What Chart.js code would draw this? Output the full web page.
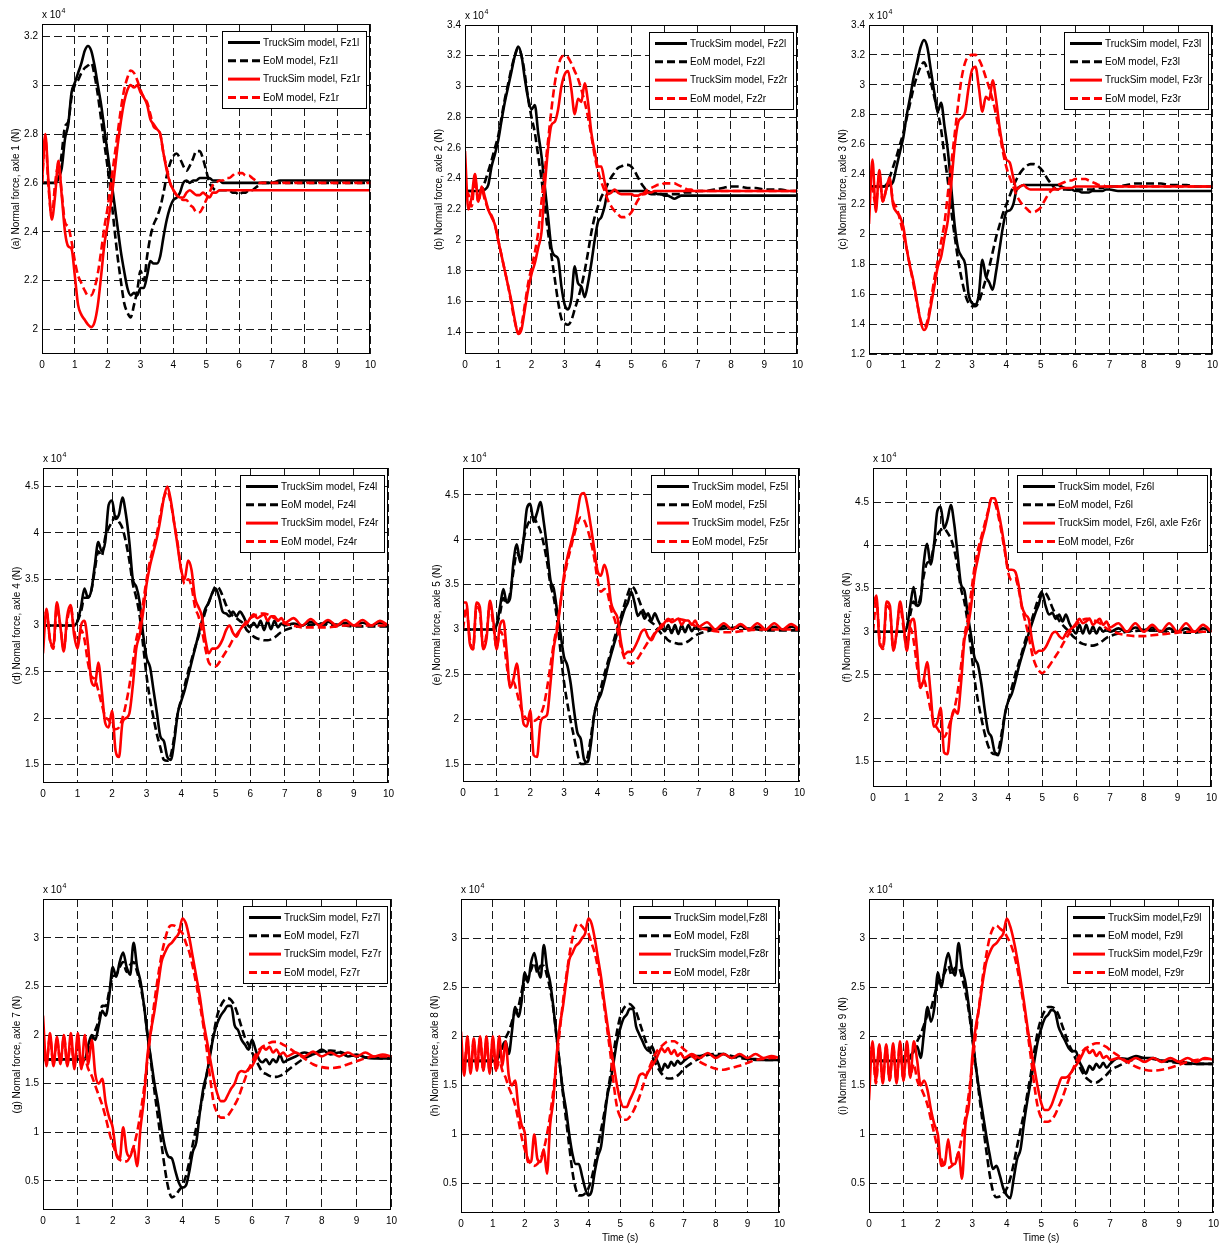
<!DOCTYPE html>
<html>
<head>
<meta charset="utf-8">
<title>Normal force per axle, TruckSim vs EoM</title>
<script src="https://cdn.jsdelivr.net/npm/chart.js@4.4.1/dist/chart.umd.min.js"></script>
<style>
  html, body { margin: 0; padding: 0; background: #fff; }
  #page { position: relative; width: 1224px; height: 1247px; overflow: hidden; }
  #page canvas { position: absolute; }
</style>
</head>
<body>
<div id="page"></div>
<script>
// time (s), shared by every panel
const T = [0,0.1,0.2,0.3,0.4,0.5,0.6,0.7,0.8,0.9,
  1,1.1,1.2,1.3,1.4,1.5,1.6,1.7,1.8,1.9,
  2,2.1,2.2,2.3,2.4,2.5,2.6,2.7,2.8,2.9,
  3,3.1,3.2,3.3,3.4,3.5,3.6,3.7,3.8,3.9,
  4,4.1,4.2,4.3,4.4,4.5,4.6,4.7,4.8,4.9,
  5,5.1,5.2,5.3,5.4,5.5,5.6,5.7,5.8,5.9,
  6,6.1,6.2,6.3,6.4,6.5,6.6,6.7,6.8,6.9,
  7,7.25,7.5,7.75,8,8.25,8.5,8.75,9,9.25,9.5,9.75,10];
const xTicks = [0,1,2,3,4,5,6,7,8,9,10];

// y tick labels (x 10^4 N)
const ticksA = [2,2.2,2.4,2.6,2.8,3,3.2];
const ticksB = [1.4,1.6,1.8,2,2.2,2.4,2.6,2.8,3,3.2,3.4];
const ticksC = [1.2,1.4,1.6,1.8,2,2.2,2.4,2.6,2.8,3,3.2,3.4];
const ticksDEF = [1.5,2,2.5,3,3.5,4,4.5];
const ticksGHI = [0.5,1,1.5,2,2.5,3];

// ---- axle 1 ----
const aTsL = [2.6,2.6,2.6,2.6,2.6,2.62,2.66,2.78,2.84,2.97,
  3.01,3.05,3.09,3.14,3.16,3.14,3.08,3.0,2.92,2.82,
  2.72,2.62,2.52,2.42,2.32,2.24,2.17,2.14,2.15,2.14,
  2.17,2.17,2.22,2.28,2.27,2.27,2.3,2.38,2.45,2.5,
  2.53,2.54,2.56,2.6,2.61,2.6,2.61,2.61,2.62,2.62,
  2.62,2.62,2.61,2.61,2.61,2.6,2.6,2.6,2.6,2.6,
  2.6,2.6,2.6,2.6,2.6,2.6,2.6,2.6,2.6,2.6,
  2.6,2.61,2.61,2.61,2.61,2.61,2.61,2.61,2.61,2.61,2.61,2.61,2.61];
const aEomL = [2.6,2.6,2.6,2.6,2.6,2.62,2.72,2.83,2.85,2.95,
  3.0,3.02,3.05,3.07,3.08,3.09,3.04,2.96,2.86,2.76,
  2.66,2.55,2.42,2.3,2.2,2.11,2.07,2.05,2.1,2.16,
  2.24,2.2,2.3,2.38,2.43,2.46,2.5,2.56,2.63,2.68,
  2.71,2.72,2.7,2.67,2.65,2.67,2.7,2.73,2.73,2.7,
  2.65,2.6,2.58,2.57,2.57,2.57,2.57,2.57,2.56,2.56,
  2.55,2.56,2.56,2.57,2.57,2.58,2.59,2.6,2.6,2.6,
  2.6,2.6,2.6,2.6,2.6,2.6,2.6,2.6,2.6,2.6,2.6,2.6,2.6];
const aTsR = [2.6,2.8,2.6,2.45,2.55,2.69,2.55,2.4,2.34,2.33,
  2.22,2.1,2.06,2.04,2.02,2.01,2.03,2.1,2.22,2.35,
  2.43,2.52,2.63,2.75,2.85,2.93,2.98,3.0,2.99,3.0,
  2.97,2.95,2.92,2.86,2.84,2.82,2.8,2.72,2.65,2.6,
  2.57,2.55,2.54,2.54,2.56,2.57,2.56,2.55,2.55,2.56,
  2.55,2.54,2.56,2.56,2.57,2.57,2.57,2.57,2.57,2.57,
  2.57,2.57,2.57,2.57,2.57,2.57,2.57,2.57,2.57,2.57,
  2.57,2.57,2.57,2.57,2.57,2.57,2.57,2.57,2.57,2.57,2.57,2.57,2.57];
const aEomR = [2.6,2.78,2.58,2.46,2.6,2.67,2.56,2.44,2.42,2.36,
  2.28,2.22,2.19,2.16,2.14,2.14,2.17,2.23,2.32,2.42,
  2.5,2.6,2.7,2.8,2.9,2.98,3.03,3.06,3.05,3.02,
  2.98,2.95,2.93,2.88,2.83,2.82,2.8,2.72,2.66,2.6,
  2.57,2.55,2.54,2.53,2.53,2.51,2.5,2.48,2.48,2.5,
  2.53,2.56,2.59,2.6,2.61,2.61,2.62,2.62,2.63,2.64,
  2.64,2.64,2.63,2.63,2.62,2.61,2.6,2.6,2.6,2.6,
  2.6,2.6,2.6,2.6,2.6,2.6,2.6,2.6,2.6,2.6,2.6,2.6,2.6];

// ---- axle 2 ----
const bTsL = [2.32,2.32,2.32,2.32,2.32,2.32,2.33,2.36,2.48,2.56,
  2.65,2.78,2.9,3.0,3.1,3.2,3.26,3.2,3.05,2.92,
  2.85,2.88,2.7,2.55,2.35,2.15,1.95,1.9,1.88,1.7,
  1.58,1.55,1.62,1.83,1.72,1.7,1.63,1.72,1.85,2.0,
  2.12,2.15,2.22,2.32,2.32,2.32,2.32,2.32,2.32,2.32,
  2.32,2.32,2.32,2.32,2.32,2.32,2.31,2.31,2.3,2.3,
  2.29,2.29,2.28,2.27,2.28,2.29,2.29,2.29,2.29,2.29,
  2.29,2.29,2.29,2.29,2.29,2.29,2.29,2.29,2.29,2.29,2.29,2.29,2.29];
const bEomL = [2.32,2.32,2.32,2.32,2.32,2.33,2.38,2.45,2.52,2.6,
  2.68,2.8,2.92,3.02,3.12,3.2,3.25,3.2,3.08,2.92,
  2.8,2.7,2.55,2.4,2.22,2.05,1.9,1.75,1.6,1.49,
  1.46,1.45,1.48,1.55,1.62,1.7,1.8,1.92,2.05,2.15,
  2.22,2.28,2.32,2.37,2.41,2.44,2.47,2.48,2.49,2.49,
  2.48,2.45,2.41,2.37,2.34,2.31,2.3,2.3,2.3,2.3,
  2.3,2.3,2.3,2.3,2.3,2.3,2.31,2.31,2.31,2.31,
  2.32,2.32,2.33,2.34,2.35,2.35,2.34,2.34,2.33,2.33,2.33,2.32,2.32];
const bTsR = [2.58,2.2,2.28,2.43,2.25,2.35,2.28,2.2,2.15,2.1,
  2.0,1.9,1.8,1.7,1.6,1.48,1.39,1.42,1.55,1.68,
  1.78,1.85,1.95,2.05,2.35,2.6,2.75,2.77,2.85,3.0,
  3.08,3.1,2.98,2.82,2.92,2.9,3.02,2.9,2.7,2.58,
  2.48,2.48,2.38,2.3,2.31,2.33,2.31,2.3,2.3,2.3,
  2.3,2.29,2.29,2.3,2.3,2.31,2.31,2.32,2.32,2.32,
  2.32,2.32,2.32,2.32,2.32,2.32,2.32,2.32,2.32,2.32,
  2.32,2.32,2.32,2.32,2.32,2.32,2.32,2.32,2.32,2.32,2.32,2.32,2.32];
const bEomR = [2.32,2.3,2.22,2.4,2.25,2.33,2.26,2.2,2.16,2.1,
  2.0,1.9,1.8,1.7,1.58,1.47,1.4,1.45,1.58,1.72,
  1.82,1.92,2.05,2.25,2.45,2.65,2.85,3.02,3.13,3.19,
  3.2,3.19,3.15,3.1,3.05,2.98,2.9,2.8,2.68,2.55,
  2.45,2.38,2.32,2.26,2.22,2.19,2.17,2.15,2.15,2.16,
  2.18,2.22,2.26,2.29,2.31,2.33,2.34,2.35,2.36,2.36,
  2.37,2.37,2.37,2.37,2.36,2.35,2.34,2.33,2.33,2.32,
  2.32,2.32,2.32,2.32,2.32,2.32,2.32,2.32,2.32,2.32,2.32,2.32,2.32];

// ---- axle 3 ----
const cTsL = [2.32,2.32,2.32,2.32,2.32,2.32,2.33,2.35,2.45,2.55,
  2.65,2.8,2.92,3.05,3.15,3.25,3.3,3.25,3.1,2.95,
  2.82,2.88,2.72,2.55,2.3,2.05,1.9,1.85,1.8,1.6,
  1.54,1.53,1.6,1.83,1.72,1.68,1.63,1.75,1.9,2.05,
  2.15,2.16,2.2,2.3,2.32,2.33,2.33,2.33,2.33,2.33,
  2.33,2.33,2.33,2.33,2.33,2.33,2.32,2.31,2.3,2.3,
  2.29,2.29,2.28,2.28,2.28,2.29,2.29,2.29,2.29,2.3,
  2.3,2.29,2.29,2.29,2.29,2.29,2.29,2.29,2.29,2.29,2.29,2.29,2.29];
const cEomL = [2.32,2.32,2.32,2.32,2.32,2.33,2.38,2.45,2.52,2.6,
  2.68,2.78,2.88,2.98,3.06,3.12,3.15,3.1,3.02,2.92,
  2.82,2.7,2.52,2.35,2.15,1.98,1.82,1.7,1.6,1.54,
  1.52,1.52,1.55,1.62,1.7,1.78,1.88,1.98,2.06,2.14,
  2.2,2.26,2.32,2.37,2.41,2.44,2.46,2.47,2.47,2.46,
  2.44,2.41,2.37,2.34,2.31,2.3,2.3,2.3,2.3,2.3,
  2.3,2.3,2.3,2.3,2.3,2.3,2.31,2.31,2.31,2.32,
  2.32,2.32,2.33,2.34,2.34,2.34,2.34,2.33,2.33,2.33,2.32,2.32,2.32];
const cTsR = [2.07,2.5,2.15,2.43,2.22,2.3,2.38,2.2,2.15,2.12,
  2.05,1.9,1.78,1.68,1.55,1.42,1.36,1.4,1.52,1.65,
  1.78,1.85,1.98,2.1,2.35,2.6,2.75,2.78,2.82,2.98,
  3.1,3.12,2.98,2.82,2.92,2.9,3.03,2.9,2.72,2.58,
  2.5,2.48,2.38,2.3,2.32,2.33,2.31,2.3,2.3,2.3,
  2.3,2.3,2.3,2.3,2.3,2.3,2.31,2.31,2.31,2.31,
  2.32,2.32,2.32,2.32,2.32,2.32,2.32,2.32,2.32,2.32,
  2.32,2.32,2.32,2.32,2.32,2.32,2.32,2.32,2.32,2.32,2.32,2.32,2.32];
const cEomR = [2.32,2.3,2.2,2.4,2.22,2.3,2.36,2.22,2.18,2.1,
  2.0,1.9,1.78,1.66,1.54,1.43,1.38,1.42,1.55,1.7,
  1.82,1.95,2.08,2.28,2.48,2.68,2.88,3.05,3.15,3.19,
  3.2,3.2,3.17,3.12,3.05,2.98,2.9,2.8,2.68,2.55,
  2.45,2.38,2.32,2.26,2.22,2.19,2.17,2.15,2.15,2.16,
  2.18,2.22,2.26,2.29,2.31,2.33,2.34,2.35,2.36,2.36,
  2.37,2.37,2.37,2.37,2.36,2.35,2.34,2.33,2.33,2.32,
  2.32,2.32,2.32,2.32,2.32,2.32,2.32,2.32,2.32,2.32,2.32,2.32,2.32];

// ---- axle 4 ----
const dTsL = [3,3,3,3,3,3,3,3,3,3,
  3.05,3.2,3.4,3.3,3.38,3.65,3.9,3.8,3.9,4.3,
  4.35,4.15,4.2,4.38,4.2,3.9,3.5,3.42,3.25,2.9,
  2.65,2.55,2.3,2.05,1.8,1.75,1.58,1.55,1.75,2.05,
  2.18,2.3,2.45,2.6,2.75,2.9,3.05,3.18,3.25,3.35,
  3.4,3.3,3.15,3.13,3.1,3.15,3.1,3.15,3.1,3.02,
  2.98,3.03,2.98,3.05,2.95,3.05,2.96,3.05,2.98,3.02,
  3.0,3.02,3.0,3.04,3.01,3.04,3.0,3.03,3.0,3.03,3.0,3.03,3.0];
const dEomL = [3,3,3,3,3,3,3,3,3,3,
  3.05,3.15,3.3,3.3,3.38,3.6,3.8,3.75,3.95,4.05,
  4.12,4.18,4.12,4.05,3.9,3.7,3.45,3.3,3.1,2.78,
  2.45,2.2,2.0,1.82,1.68,1.55,1.54,1.6,1.8,2.05,
  2.2,2.35,2.5,2.63,2.76,2.88,3.02,3.15,3.25,3.35,
  3.42,3.4,3.32,3.22,3.15,3.1,3.08,3.05,3.02,2.95,
  2.92,2.88,2.86,2.85,2.84,2.84,2.85,2.87,2.9,2.93,
  2.95,2.98,3.0,3.01,3.02,3.02,3.01,3.0,2.99,2.99,2.99,2.99,2.99];
const dTsR = [2.7,3.18,2.85,2.78,3.25,3.0,2.72,3.1,3.22,2.9,
  2.75,3.0,3.05,2.8,2.4,2.35,2.6,2.3,1.95,1.9,
  2.08,1.65,1.58,1.95,2.0,2.05,2.35,2.75,2.9,3.15,
  3.45,3.65,3.8,3.95,4.15,4.38,4.5,4.35,4.1,3.85,
  3.6,3.5,3.7,3.6,3.3,3.2,3.1,2.85,2.7,2.75,
  2.75,2.78,2.85,2.95,3.0,2.92,2.88,2.95,3.0,3.02,
  3.08,3.12,3.08,3.1,3.12,3.05,3.1,3.1,3.05,3.08,
  3.03,3.08,3.0,3.07,3.0,3.06,3.0,3.06,3.0,3.06,3.0,3.05,3.0];
const dEomR = [3.0,3.15,2.85,2.75,3.2,3.0,2.75,3.05,3.2,2.95,
  2.8,2.95,2.85,2.6,2.45,2.42,2.3,2.15,2.02,1.98,
  1.92,1.88,1.9,2.0,2.15,2.35,2.6,2.85,3.0,3.25,
  3.5,3.7,3.85,4.0,4.2,4.38,4.45,4.32,4.1,3.88,
  3.6,3.45,3.5,3.42,3.2,3.1,2.95,2.75,2.6,2.57,
  2.56,2.6,2.66,2.72,2.78,2.85,2.9,2.95,3.0,3.05,
  3.08,3.1,3.12,3.13,3.13,3.12,3.1,3.08,3.06,3.04,
  3.02,3.0,2.98,2.98,2.98,2.98,2.99,3.0,3.0,3.0,3.0,3.0,3.0];

// ---- axle 5 ----
const eTsL = [3,3,3,3,3,3,3,3,3,3,
  3.05,3.25,3.45,3.3,3.35,3.75,3.95,3.75,4.0,4.35,
  4.4,4.2,4.3,4.42,4.2,3.9,3.55,3.45,3.2,2.95,
  2.7,2.6,2.4,2.1,1.85,1.78,1.55,1.52,1.72,2.05,
  2.2,2.28,2.42,2.58,2.72,2.85,2.98,3.1,3.22,3.3,
  3.42,3.3,3.15,3.2,3.12,3.18,3.1,3.18,3.1,3.03,
  2.98,3.05,2.96,3.05,2.95,3.05,2.97,3.05,2.98,3.03,
  3.0,3.02,3.0,3.04,3.01,3.04,3.0,3.03,3.0,3.03,3.0,3.03,3.0];
const eEomL = [3,3,3,3,3,3,3,3,3,3,
  3.05,3.18,3.35,3.3,3.4,3.65,3.85,3.8,4.0,4.15,
  4.22,4.25,4.18,4.1,3.95,3.75,3.5,3.35,3.1,2.75,
  2.42,2.18,1.98,1.8,1.62,1.5,1.5,1.58,1.8,2.05,
  2.2,2.35,2.5,2.63,2.76,2.9,3.03,3.15,3.28,3.4,
  3.48,3.45,3.36,3.26,3.18,3.12,3.08,3.05,3.0,2.95,
  2.92,2.88,2.86,2.85,2.84,2.84,2.85,2.87,2.9,2.93,
  2.95,2.98,3.0,3.01,3.02,3.02,3.01,3.0,2.99,2.99,2.99,2.99,2.99];
const eTsR = [3.3,3.3,2.85,2.78,3.3,3.25,2.78,2.9,3.32,3.1,
  2.78,3.05,3.1,2.75,2.35,2.45,2.62,2.3,1.95,1.92,
  2.1,1.6,1.58,1.95,2.02,2.05,2.4,2.8,3.0,3.3,
  3.6,3.8,3.95,4.1,4.3,4.5,4.52,4.38,4.15,3.9,
  3.65,3.6,3.72,3.6,3.3,3.2,3.12,2.85,2.72,2.75,
  2.75,2.8,2.88,2.97,3.0,2.92,2.88,2.95,3.0,3.02,
  3.08,3.12,3.08,3.1,3.12,3.05,3.1,3.1,3.05,3.1,
  3.03,3.08,3.0,3.07,3.0,3.06,3.0,3.07,3.0,3.07,3.0,3.06,3.0];
const eEomR = [3.0,3.25,2.9,2.78,3.25,3.2,2.8,2.95,3.28,3.05,
  2.8,2.98,2.9,2.6,2.4,2.42,2.3,2.15,2.05,2.0,
  1.98,1.98,2.0,2.05,2.15,2.35,2.6,2.85,3.05,3.3,
  3.55,3.75,3.9,4.05,4.18,4.25,4.22,4.12,3.98,3.8,
  3.55,3.42,3.45,3.4,3.22,3.12,2.98,2.8,2.68,2.63,
  2.62,2.64,2.68,2.74,2.8,2.86,2.9,2.96,3.0,3.05,
  3.08,3.1,3.11,3.12,3.12,3.11,3.1,3.08,3.06,3.04,
  3.02,3.0,2.98,2.97,2.97,2.98,2.99,3.0,3.0,3.0,3.0,3.0,3.0];

// ---- axle 6 ----
const fTsL = [3,3,3,3,3,3,3,3,3,3,
  3.05,3.3,3.52,3.3,3.35,3.8,4.02,3.78,4.0,4.4,
  4.45,4.2,4.3,4.47,4.25,3.9,3.55,3.48,3.2,2.95,
  2.7,2.62,2.4,2.1,1.85,1.78,1.6,1.57,1.75,2.05,
  2.2,2.28,2.42,2.58,2.72,2.85,2.98,3.1,3.22,3.32,
  3.45,3.3,3.2,3.22,3.15,3.2,3.12,3.2,3.1,3.03,
  2.98,3.08,2.98,3.08,2.98,3.06,2.98,3.05,3.0,3.03,
  3.0,3.04,3.0,3.05,3.02,3.05,3.0,3.04,3.0,3.04,3.0,3.04,3.0];
const fEomL = [3,3,3,3,3,3,3,3,3,3,
  3.05,3.2,3.35,3.3,3.4,3.65,3.8,3.82,4.0,4.12,
  4.18,4.2,4.15,4.08,3.95,3.75,3.5,3.35,3.1,2.78,
  2.45,2.2,2.0,1.82,1.68,1.6,1.58,1.62,1.82,2.05,
  2.2,2.35,2.5,2.63,2.76,2.9,3.02,3.15,3.28,3.4,
  3.47,3.45,3.38,3.28,3.2,3.13,3.08,3.04,3.0,2.95,
  2.92,2.88,2.86,2.85,2.84,2.84,2.85,2.87,2.9,2.93,
  2.95,2.98,3.0,3.01,3.02,3.02,3.01,3.0,3.0,2.99,2.99,3.0,3.0];
const fTsR = [3.3,3.42,2.85,2.82,3.35,3.3,2.78,3.0,3.35,3.1,
  2.78,3.1,3.15,2.8,2.35,2.45,2.65,2.3,1.9,1.95,
  2.12,1.6,1.58,1.95,2.1,2.05,2.4,2.9,3.05,3.3,
  3.65,3.85,4.05,4.2,4.38,4.55,4.55,4.4,4.2,3.95,
  3.72,3.72,3.7,3.55,3.3,3.2,3.15,2.9,2.75,2.78,
  2.78,2.82,2.9,2.98,3.0,2.95,2.92,2.98,3.02,3.05,
  3.1,3.15,3.1,3.12,3.15,3.08,3.12,3.15,3.08,3.12,
  3.05,3.1,3.0,3.1,3.0,3.08,3.0,3.1,3.0,3.1,3.0,3.08,3.0];
const fEomR = [3.0,3.35,2.9,2.8,3.3,3.25,2.8,3.0,3.3,3.05,
  2.8,3.05,2.9,2.6,2.35,2.45,2.3,2.1,1.95,1.88,
  1.82,1.78,1.85,1.98,2.1,2.3,2.6,2.95,3.15,3.45,
  3.75,3.95,4.1,4.25,4.4,4.55,4.5,4.35,4.15,3.92,
  3.68,3.6,3.62,3.5,3.28,3.12,2.95,2.75,2.62,2.55,
  2.52,2.55,2.6,2.66,2.72,2.78,2.85,2.92,2.98,3.04,
  3.08,3.12,3.14,3.15,3.15,3.14,3.12,3.1,3.07,3.04,
  3.02,2.98,2.96,2.95,2.95,2.96,2.97,2.98,2.99,3.0,3.0,3.0,3.0];

// ---- axle 7 ----
const gTsL = [1.75,1.75,1.75,1.75,1.75,1.75,1.75,1.75,1.75,1.75,
  1.75,1.75,1.75,1.9,2.0,1.95,2.1,2.25,2.2,2.4,
  2.7,2.6,2.75,2.85,2.7,2.62,2.95,2.7,2.55,2.3,
  2.0,1.75,1.5,1.3,1.05,0.85,0.75,0.73,0.6,0.48,
  0.43,0.45,0.6,0.8,0.9,1.2,1.45,1.6,1.8,2.0,
  2.12,2.2,2.25,2.3,2.3,2.1,2.05,1.95,1.9,1.85,
  1.95,1.85,1.75,1.72,1.75,1.7,1.75,1.72,1.8,1.72,
  1.74,1.78,1.82,1.8,1.85,1.8,1.82,1.78,1.8,1.77,1.76,1.76,1.76];
const gEomL = [1.75,1.75,1.75,1.75,1.75,1.75,1.75,1.75,1.75,1.75,
  1.75,1.75,1.75,1.85,1.95,2.05,2.15,2.3,2.3,2.45,
  2.6,2.62,2.7,2.75,2.65,2.72,2.75,2.65,2.5,2.3,
  2.0,1.72,1.42,1.15,0.88,0.62,0.42,0.33,0.35,0.4,
  0.45,0.55,0.7,0.88,1.05,1.22,1.4,1.6,1.82,2.02,
  2.2,2.3,2.36,2.38,2.36,2.3,2.2,2.08,1.97,1.9,
  1.82,1.75,1.68,1.62,1.6,1.58,1.57,1.57,1.58,1.6,
  1.63,1.7,1.76,1.8,1.83,1.84,1.83,1.8,1.78,1.77,1.77,1.76,1.76];
const gTsR = [2.2,1.68,2.02,1.68,1.98,1.7,2.0,1.68,2.02,1.65,
  2.02,1.65,2.0,1.7,1.95,1.6,1.5,1.55,1.3,1.15,
  1.05,0.78,0.72,1.05,0.8,0.75,0.85,0.65,1.05,1.35,
  1.8,2.05,2.25,2.5,2.75,2.85,2.92,2.95,3.0,3.05,
  3.2,3.15,3.0,2.8,2.6,2.4,2.15,1.95,1.75,1.55,
  1.4,1.32,1.32,1.38,1.45,1.5,1.6,1.63,1.62,1.65,
  1.68,1.75,1.82,1.88,1.85,1.88,1.82,1.85,1.8,1.82,
  1.78,1.82,1.78,1.83,1.78,1.82,1.78,1.82,1.78,1.82,1.78,1.8,1.78];
const gEomR = [1.9,1.72,1.98,1.7,1.95,1.72,1.98,1.7,1.95,1.68,
  1.95,1.68,1.75,1.65,1.58,1.48,1.38,1.28,1.15,1.0,
  0.88,0.78,0.72,0.7,0.7,0.75,0.85,1.0,1.2,1.45,
  1.75,2.05,2.35,2.6,2.82,2.98,3.1,3.13,3.12,3.08,
  3.05,2.95,2.85,2.7,2.52,2.32,2.1,1.85,1.55,1.3,
  1.2,1.15,1.15,1.17,1.22,1.28,1.35,1.45,1.55,1.65,
  1.72,1.8,1.85,1.88,1.9,1.92,1.93,1.93,1.92,1.9,
  1.88,1.82,1.76,1.7,1.67,1.66,1.67,1.7,1.73,1.76,1.78,1.78,1.78];

// ---- axle 8 ----
const hTsL = [1.75,1.75,1.75,1.75,1.75,1.75,1.75,1.75,1.75,1.75,
  1.75,1.75,1.85,1.9,1.95,1.82,2.05,2.3,2.2,2.35,
  2.65,2.55,2.75,2.85,2.7,2.6,2.93,2.7,2.55,2.3,
  2.0,1.72,1.45,1.25,1.0,0.8,0.7,0.7,0.58,0.45,
  0.38,0.42,0.62,0.78,0.88,1.15,1.4,1.55,1.75,1.95,
  2.08,2.18,2.22,2.28,2.28,2.1,2.02,1.95,1.88,1.85,
  1.9,1.8,1.72,1.65,1.72,1.68,1.74,1.7,1.75,1.72,
  1.75,1.8,1.8,1.82,1.8,1.82,1.78,1.8,1.77,1.77,1.76,1.76,1.76];
const hEomL = [1.75,1.75,1.75,1.75,1.75,1.75,1.75,1.75,1.75,1.75,
  1.75,1.75,1.8,1.88,1.98,2.05,2.15,2.25,2.3,2.45,
  2.58,2.6,2.68,2.75,2.65,2.72,2.72,2.62,2.48,2.28,
  2.0,1.72,1.42,1.15,0.88,0.62,0.45,0.38,0.38,0.4,
  0.45,0.55,0.7,0.88,1.05,1.22,1.42,1.62,1.85,2.05,
  2.2,2.28,2.32,2.33,2.3,2.25,2.15,2.05,1.95,1.88,
  1.8,1.73,1.67,1.62,1.59,1.57,1.57,1.58,1.6,1.63,
  1.67,1.73,1.78,1.81,1.82,1.82,1.8,1.78,1.77,1.76,1.76,1.76,1.76];
const hTsR = [2.05,1.6,2.0,1.62,1.98,1.65,2.0,1.65,2.0,1.62,
  2.0,1.65,2.0,1.7,1.95,1.6,1.5,1.55,1.28,1.1,
  1.02,0.72,0.72,1.0,0.75,0.72,0.85,0.6,1.1,1.35,
  1.8,2.1,2.3,2.55,2.78,2.85,2.92,2.95,3.0,3.05,
  3.2,3.15,3.0,2.8,2.6,2.35,2.12,1.9,1.7,1.5,
  1.35,1.28,1.28,1.35,1.42,1.5,1.6,1.62,1.6,1.65,
  1.7,1.75,1.82,1.88,1.84,1.88,1.82,1.86,1.8,1.83,
  1.78,1.82,1.78,1.83,1.78,1.82,1.78,1.82,1.78,1.82,1.78,1.8,1.78];
const hEomR = [1.75,1.7,1.95,1.65,1.95,1.68,1.98,1.65,1.95,1.65,
  1.95,1.65,1.75,1.65,1.58,1.48,1.4,1.3,1.15,0.98,
  0.85,0.75,0.7,0.68,0.7,0.75,0.85,1.0,1.2,1.45,
  1.75,2.05,2.35,2.6,2.82,3.0,3.12,3.15,3.12,3.08,
  3.05,2.95,2.85,2.7,2.52,2.3,2.05,1.8,1.5,1.28,
  1.18,1.15,1.15,1.18,1.23,1.3,1.38,1.48,1.58,1.67,
  1.75,1.82,1.87,1.9,1.93,1.95,1.95,1.95,1.93,1.9,
  1.87,1.8,1.74,1.7,1.67,1.66,1.68,1.7,1.73,1.76,1.77,1.78,1.78];

// ---- axle 9 ----
const iTsL = [1.75,1.75,1.75,1.75,1.75,1.75,1.75,1.75,1.75,1.75,
  1.75,1.75,1.8,1.85,1.9,1.78,2.05,2.3,2.15,2.3,
  2.65,2.5,2.7,2.85,2.7,2.62,2.95,2.7,2.55,2.3,
  2.0,1.7,1.45,1.22,1.0,0.8,0.65,0.68,0.58,0.45,
  0.38,0.35,0.55,0.75,0.85,1.12,1.35,1.55,1.75,1.95,
  2.08,2.18,2.22,2.27,2.25,2.1,2.02,1.95,1.88,1.85,
  1.85,1.75,1.68,1.62,1.7,1.66,1.72,1.68,1.73,1.68,
  1.72,1.78,1.77,1.8,1.78,1.78,1.75,1.75,1.74,1.73,1.72,1.72,1.72];
const iEomL = [1.75,1.75,1.75,1.75,1.75,1.75,1.75,1.75,1.75,1.75,
  1.75,1.75,1.78,1.85,1.95,2.02,2.12,2.22,2.28,2.42,
  2.55,2.58,2.65,2.72,2.62,2.7,2.7,2.6,2.45,2.25,
  1.98,1.7,1.4,1.12,0.85,0.6,0.42,0.36,0.37,0.4,
  0.45,0.55,0.7,0.88,1.05,1.22,1.42,1.62,1.85,2.05,
  2.18,2.26,2.3,2.3,2.28,2.22,2.12,2.02,1.92,1.85,
  1.77,1.7,1.63,1.58,1.55,1.53,1.53,1.55,1.58,1.61,
  1.65,1.7,1.74,1.77,1.78,1.77,1.75,1.74,1.73,1.72,1.72,1.72,1.72];
const iTsR = [1.35,1.95,1.55,1.92,1.52,1.92,1.55,1.93,1.52,1.95,
  1.55,1.95,1.58,1.95,1.75,1.5,1.55,1.45,1.25,1.1,
  1.0,0.68,0.7,0.95,0.7,0.7,0.82,0.55,1.1,1.3,
  1.8,2.1,2.3,2.55,2.75,2.85,2.92,2.95,3.0,3.05,
  3.2,3.12,2.98,2.8,2.58,2.35,2.1,1.88,1.68,1.48,
  1.32,1.25,1.25,1.3,1.4,1.5,1.58,1.58,1.6,1.65,
  1.7,1.75,1.82,1.88,1.83,1.86,1.8,1.84,1.78,1.8,
  1.76,1.78,1.74,1.78,1.74,1.78,1.74,1.78,1.74,1.78,1.74,1.78,1.76];
const iEomR = [1.75,1.9,1.52,1.9,1.55,1.9,1.55,1.9,1.55,1.92,
  1.55,1.92,1.6,1.72,1.55,1.48,1.4,1.3,1.15,1.0,
  0.85,0.75,0.68,0.66,0.68,0.72,0.82,0.98,1.18,1.42,
  1.72,2.02,2.32,2.6,2.82,3.0,3.1,3.13,3.1,3.07,
  3.02,2.95,2.85,2.7,2.52,2.3,2.05,1.78,1.5,1.28,
  1.17,1.13,1.13,1.15,1.2,1.28,1.36,1.46,1.56,1.65,
  1.73,1.8,1.85,1.88,1.9,1.92,1.93,1.93,1.91,1.89,
  1.86,1.8,1.74,1.69,1.66,1.65,1.66,1.68,1.71,1.74,1.76,1.77,1.77];

// legend texts and axis titles
const legendA = ['TruckSim model, Fz1l', 'EoM model, Fz1l', 'TruckSim model, Fz1r', 'EoM model, Fz1r'];
const legendB = ['TruckSim model, Fz2l', 'EoM model, Fz2l', 'TruckSim model, Fz2r', 'EoM model, Fz2r'];
const legendC = ['TruckSim model, Fz3l', 'EoM model, Fz3l', 'TruckSim model, Fz3r', 'EoM model, Fz3r'];
const legendD = ['TruckSim model, Fz4l', 'EoM model, Fz4l', 'TruckSim model, Fz4r', 'EoM model, Fz4r'];
const legendE = ['TruckSim model, Fz5l', 'EoM model, Fz5l', 'TruckSim model, Fz5r', 'EoM model, Fz5r'];
const legendF = ['TruckSim model, Fz6l', 'EoM model, Fz6l', 'TruckSim model, Fz6l, axle Fz6r', 'EoM model, Fz6r'];
const legendG = ['TruckSim model, Fz7l', 'EoM model, Fz7l', 'TruckSim model, Fz7r', 'EoM model, Fz7r'];
const legendH = ['TruckSim model,Fz8l', 'EoM model, Fz8l', 'TruckSim model,Fz8r', 'EoM model, Fz8r'];
const legendI = ['TruckSim model,Fz9l', 'EoM model, Fz9l', 'TruckSim model,Fz9r', 'EoM model, Fz9r'];

const panels = [
  { series: [aTsL, aEomL, aTsR, aEomR], legend: legendA, yTitle: '(a) Normal force, axle 1 (N)', yMin: 1.9, yMax: 3.25, yTicks: ticksA },
  { series: [bTsL, bEomL, bTsR, bEomR], legend: legendB, yTitle: '(b) Normal force, axle 2 (N)', yMin: 1.26, yMax: 3.4, yTicks: ticksB },
  { series: [cTsL, cEomL, cTsR, cEomR], legend: legendC, yTitle: '(c) Normal force, axle 3 (N)', yMin: 1.2, yMax: 3.4, yTicks: ticksC },
  { series: [dTsL, dEomL, dTsR, dEomR], legend: legendD, yTitle: '(d) Nomal force, axle 4 (N)', yMin: 1.3, yMax: 4.7, yTicks: ticksDEF },
  { series: [eTsL, eEomL, eTsR, eEomR], legend: legendE, yTitle: '(e) Normal force, axle 5 (N)', yMin: 1.3, yMax: 4.8, yTicks: ticksDEF },
  { series: [fTsL, fEomL, fTsR, fEomR], legend: legendF, yTitle: '(f) Normal force, axl6 (N)', yMin: 1.2, yMax: 4.9, yTicks: ticksDEF },
  { series: [gTsL, gEomL, gTsR, gEomR], legend: legendG, yTitle: '(g) Nomal force, axle 7 (N)', yMin: 0.2, yMax: 3.4, yTicks: ticksGHI },
  { series: [hTsL, hEomL, hTsR, hEomR], legend: legendH, yTitle: '(h) Normal force, axle 8 (N)', yMin: 0.2, yMax: 3.4, yTicks: ticksGHI, xTitle: 'Time (s)' },
  { series: [iTsL, iEomL, iTsR, iEomR], legend: legendI, yTitle: '(i) Normal force, axle 9 (N)', yMin: 0.2, yMax: 3.4, yTicks: ticksGHI, xTitle: 'Time (s)' }
];

// plot-area rectangles on the page: left, top, right, bottom
const plotBoxes = [
  [42, 24, 373, 354], [465, 25, 800, 354], [869, 25, 1215, 354],
  [43, 468, 391, 783], [463, 468, 802, 782], [873, 468, 1214, 787],
  [43, 899, 394, 1210], [461, 899, 782, 1213], [869, 899, 1216, 1213]
];

const FONT = '"Liberation Sans", Arial, Helvetica, sans-serif';
Chart.defaults.font.family = FONT;
Chart.defaults.font.size = 10;
Chart.defaults.color = '#000';

const lineColors = ['#000000', '#000000', '#ff0000', '#ff0000'];
const lineDash = [[], [8, 4], [], [8, 4]];
const Y_AXIS_W = 44, TOP_PAD = 24, RIGHT_PAD = 8;

// frame, "x 10^4" and boxed legend drawn over the plot
function decorPlugin(p) {
  return {
    id: 'decor',
    afterDatasetsDraw(chart) {
      const ctx = chart.ctx, a = chart.chartArea;
      ctx.save();
      ctx.setLineDash([]);
      ctx.strokeStyle = '#000';
      ctx.lineWidth = 1;
      ctx.strokeRect(Math.round(a.left) + 0.5, Math.round(a.top) + 0.5,
        Math.round(a.right - a.left) - 1, Math.round(a.bottom - a.top) - 1);

      // exponent label
      ctx.fillStyle = '#000';
      ctx.textBaseline = 'alphabetic';
      ctx.font = '10px ' + FONT;
      ctx.fillText('x 10', a.left, a.top - 6);
      const w = ctx.measureText('x 10').width;
      ctx.font = '7px ' + FONT;
      ctx.fillText('4', a.left + w + 0.5, a.top - 11);

      // legend
      ctx.font = '10px ' + FONT;
      const tw = Math.max(...p.legend.map(s => ctx.measureText(s).width));
      const bw = Math.round(6 + 32 + 3 + tw + 6), bh = 77;
      const bx = Math.round(a.right - 4 - bw), by = Math.round(a.top + 7);
      ctx.fillStyle = '#fff';
      ctx.fillRect(bx, by, bw, bh);
      ctx.strokeStyle = '#000';
      ctx.strokeRect(bx + 0.5, by + 0.5, bw, bh);
      p.legend.forEach((s, k) => {
        const y = by + 11.5 + k * 18.3;
        ctx.beginPath();
        ctx.setLineDash(lineDash[k]);
        ctx.strokeStyle = lineColors[k];
        ctx.lineWidth = 3;
        ctx.moveTo(bx + 6, y);
        ctx.lineTo(bx + 38, y);
        ctx.stroke();
        ctx.setLineDash([]);
        ctx.fillStyle = '#000';
        ctx.textBaseline = 'middle';
        ctx.fillText(s, bx + 41, y + 0.5);
      });
      ctx.restore();
    }
  };
}

const page = document.getElementById('page');

panels.forEach((p, n) => {
  const [L, Tp, R, B] = plotBoxes[n];
  const xh = p.xTitle ? 36 : 30;
  const cw = Y_AXIS_W + (R - L) + RIGHT_PAD;
  const chH = TOP_PAD + (B - Tp) + xh;
  const canvas = document.createElement('canvas');
  canvas.width = cw; canvas.height = chH;
  canvas.style.width = cw + 'px'; canvas.style.height = chH + 'px';
  canvas.style.left = (L - Y_AXIS_W) + 'px';
  canvas.style.top = (Tp - TOP_PAD) + 'px';
  page.appendChild(canvas);

  const datasets = p.series.map((vals, k) => ({
    label: p.legend[k],
    data: T.map((t, i) => ({ x: t, y: vals[i] })),
    borderColor: lineColors[k],
    borderDash: lineDash[k],
    borderWidth: 2.6,
    pointRadius: 0,
    cubicInterpolationMode: 'monotone',
    fill: false,
    order: 3 - k
  }));

  const gridOpts = { color: '#1a1a1a', lineWidth: 1, drawTicks: false };

  new Chart(canvas, {
    type: 'line',
    data: { datasets: datasets },
    options: {
      responsive: false,
      animation: false,
      events: [],
      layout: { padding: { left: 0, top: TOP_PAD, right: RIGHT_PAD, bottom: 0 } },
      plugins: { legend: { display: false }, tooltip: { enabled: false } },
      scales: {
        x: {
          type: 'linear', min: 0, max: 10,
          afterBuildTicks: s => { s.ticks = xTicks.map(v => ({ value: v })); },
          afterFit: s => { s.height = xh; },
          ticks: { padding: 5, maxRotation: 0, autoSkip: false, callback: v => String(v) },
          grid: gridOpts,
          border: { display: false, dash: [8, 4] },
          title: { display: !!p.xTitle, text: p.xTitle || '', font: { size: 10 }, padding: { top: 0, bottom: 5 } }
        },
        y: {
          type: 'linear', min: p.yMin, max: p.yMax,
          afterBuildTicks: s => { s.ticks = p.yTicks.map(v => ({ value: v })); },
          afterFit: s => { s.width = Y_AXIS_W; },
          ticks: { padding: 4, autoSkip: false, callback: v => String(v) },
          grid: gridOpts,
          border: { display: false, dash: [8, 4] },
          title: { display: true, text: p.yTitle, font: { size: 10 }, padding: { top: 12, bottom: 0 } }
        }
      }
    },
    plugins: [decorPlugin(p)]
  });
});
</script>
</body>
</html>
